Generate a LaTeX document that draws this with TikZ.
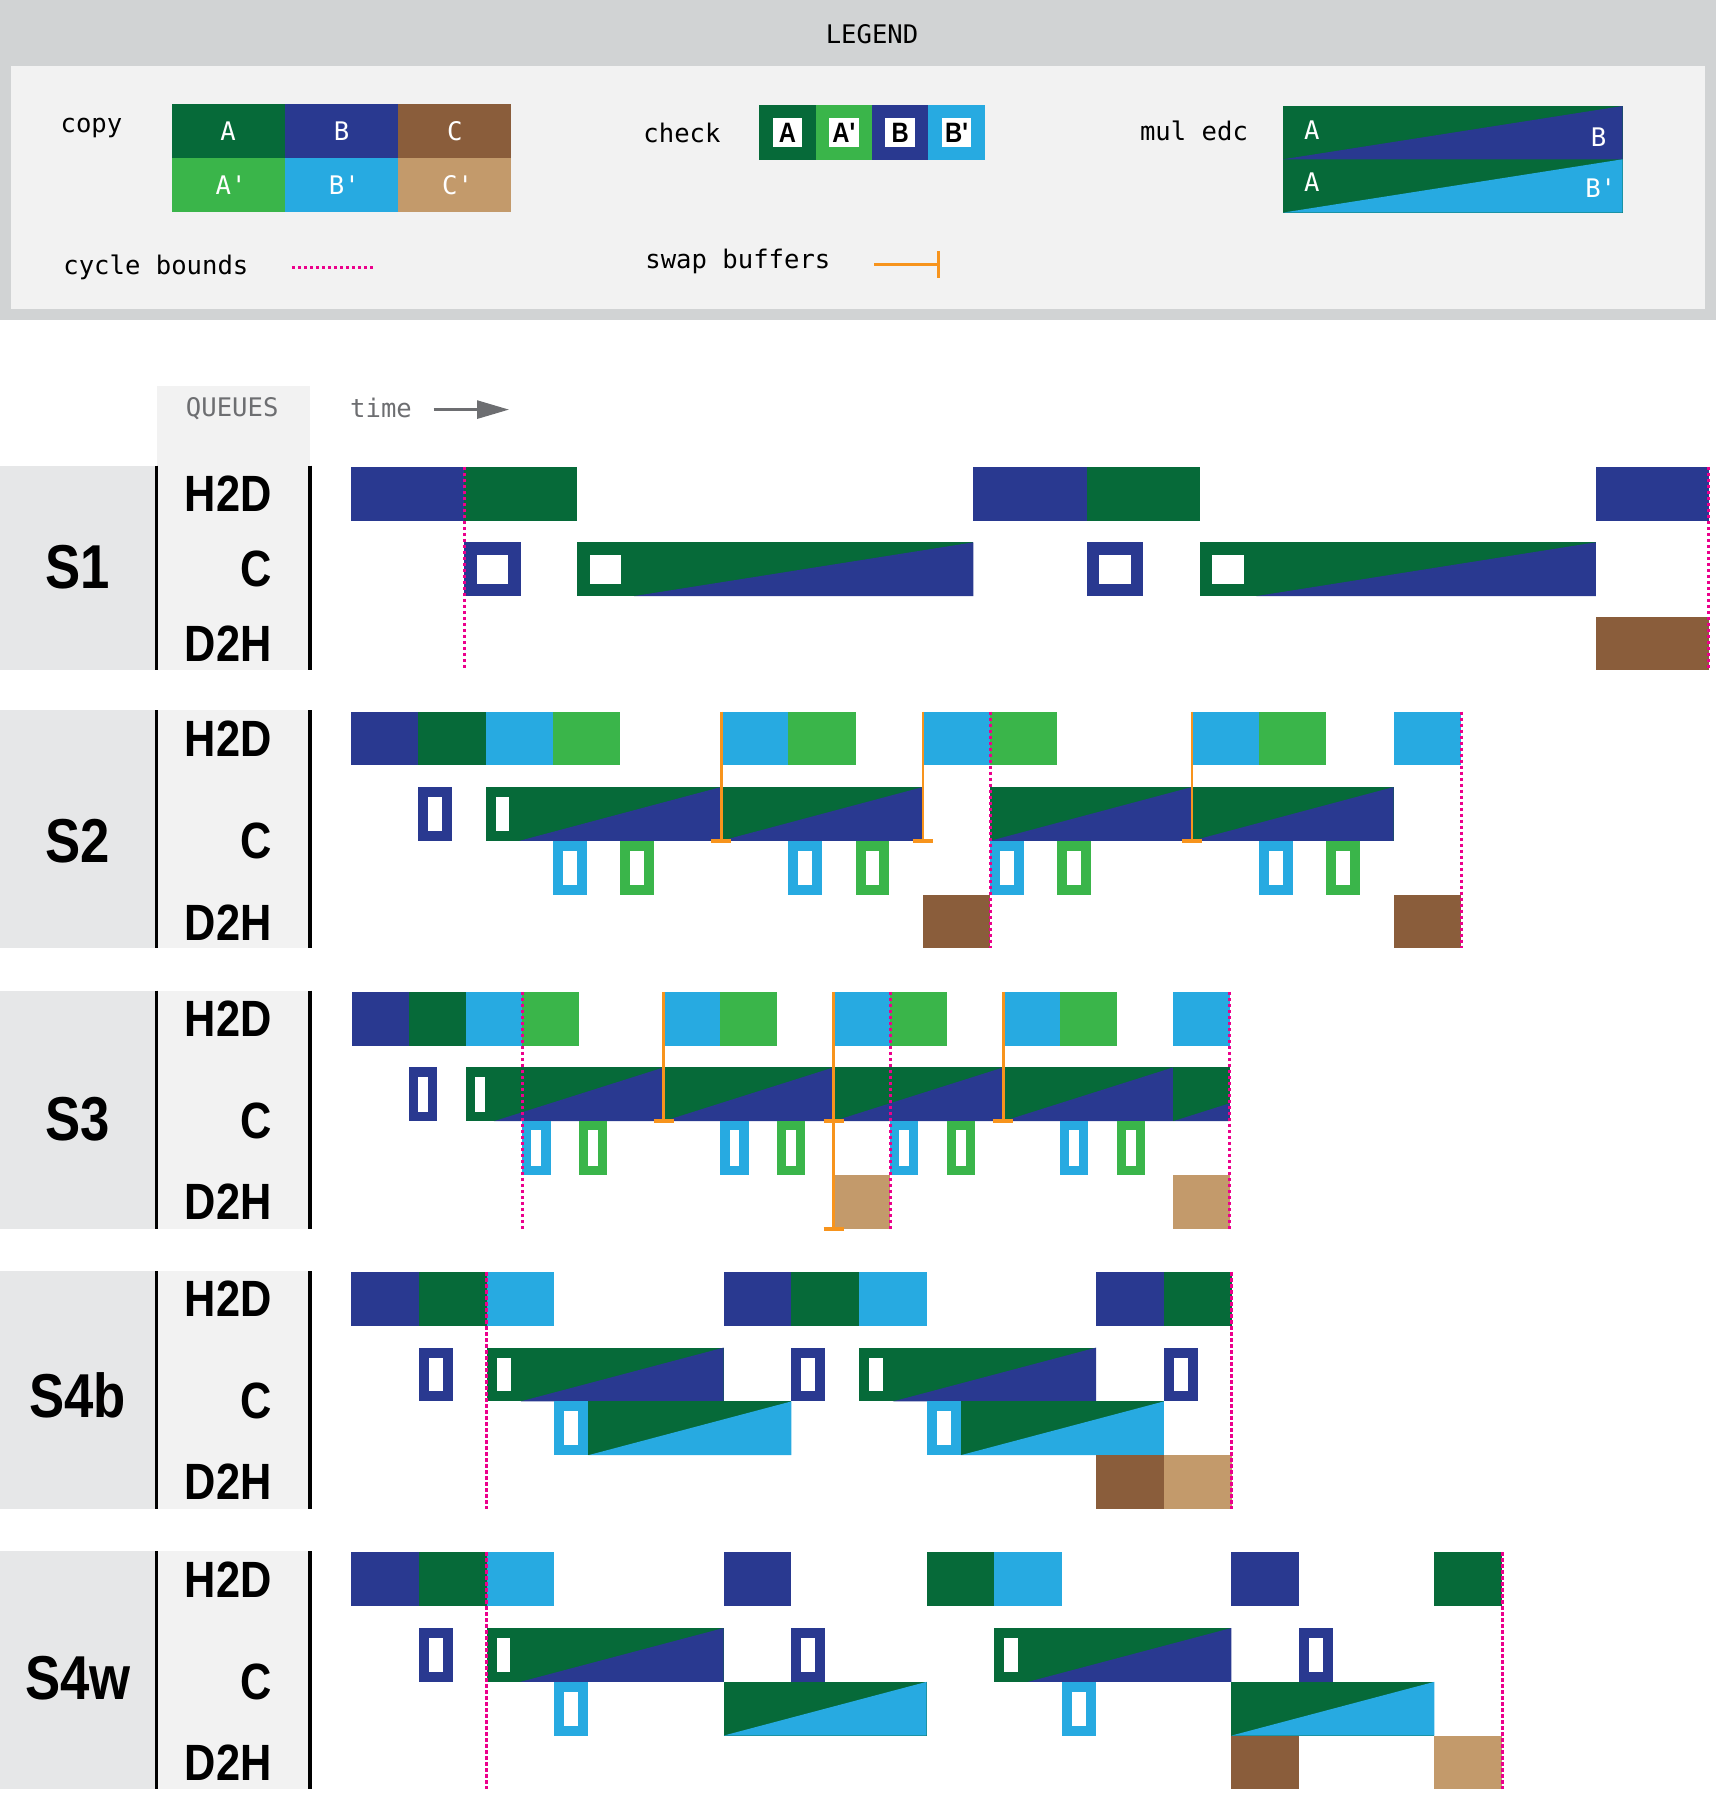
\documentclass[tikz,border=0pt]{standalone}
\usepackage{fontspec}
\setmainfont{Liberation Sans}
\newfontfamily\codefont{DejaVu Sans Mono}
\newfontfamily\headfont[FakeStretch=0.85]{Liberation Sans}
\usetikzlibrary{arrows.meta}
\definecolor{cA}{HTML}{066A39}
\definecolor{cB}{HTML}{293990}
\definecolor{cC}{HTML}{8A5D3B}
\definecolor{cAp}{HTML}{3AB54A}
\definecolor{cBp}{HTML}{27AAE1}
\definecolor{cCp}{HTML}{C39A6B}
\definecolor{cyc}{HTML}{EC008C}
\definecolor{swp}{HTML}{F7941D}
\definecolor{lgdark}{HTML}{D1D3D4}
\definecolor{lglight}{HTML}{F2F2F2}
\definecolor{cellgrey}{HTML}{E6E7E8}
\definecolor{txtgrey}{HTML}{6D6E71}

% lane height (px)
\newcommand{\lh}{53.8}
% copy block: colour, from, to, lane top
\newcommand{\cpyblk}[4]{\fill[#1] (#2,#4) rectangle (#3,#4+\lh);}
% check block: colour, start, lane top
\newcommand{\chkblk}[3]{\fill[#1] (#2,#3) rectangle (#2+1,#3+\lh);
  \fill[white] ([xshift=\chkb,yshift=-\chkb]#2,#3) rectangle ([xshift=-\chkb,yshift=\chkb]#2+1,#3+\lh);}
% mul edc block: lower colour, from, to, lane top
\newcommand{\mulblk}[4]{\fill[cA] (#2,#4) rectangle (#3,#4+\lh);
  \fill[#1] (#2,#4+\lh) -- (#3,#4) -- (#3,#4+\lh) -- cycle;}
\newcommand{\cycbnd}[3]{\draw[cycbound] (#1,#2) -- (#1,#3);}
\newcommand{\swapbuf}[3]{\draw[swapline] (#1,#2) -- (#1,#3);
  \draw[swapfoot] ([xshift=-5pt]#1,#3) -- ([xshift=5pt]#1,#3);}

\begin{document}
\begin{tikzpicture}[
  x=0.5pt, y=-0.5pt,
  legtxt/.style={font=\codefont\fontsize{12.8}{15}\selectfont, inner sep=0},
  celltxt/.style={legtxt, text=white},
  chklbl/.style={font=\headfont\bfseries\fontsize{14}{16}\selectfont, fill=white,
                 minimum width=14.75pt, minimum height=14.5pt, inner sep=0},
  queuelbl/.style={font=\headfont\bfseries\fontsize{25.5}{28}\selectfont, anchor=east, inner sep=0},
  scenlbl/.style={font=\headfont\bfseries\fontsize{31}{34}\selectfont, inner sep=0},
  cycbound/.style={cyc, line width=1.5pt, dash pattern=on 1.7pt off 1.3pt},
  swapline/.style={swp, line width=1.4pt},
  swapfoot/.style={swp, line width=2pt},
  sep/.style={black, line width=1.75pt},
  timearrow/.style={-{Triangle[length=16pt,width=9pt]}, txtgrey, line width=1.4pt}
]
\useasboundingbox (0,0) rectangle (1716,1794);

% legend
\fill[lgdark] (0,0) rectangle (1716,320);
\fill[lglight] (11.4,66.4) rectangle (1704.6,309);
\node[legtxt] (legend_title) at (872,34) {LEGEND};
\node[legtxt] (lbl_copy) at (91.5,128) {copy};
\fill[cA]  (171.6,104.1) rectangle (284.9,157.9);
\fill[cB]  (284.9,104.1) rectangle (398.1,157.9);
\fill[cC]  (398.1,104.1) rectangle (511.4,157.9);
\fill[cAp] (171.6,157.9) rectangle (284.9,211.6);
\fill[cBp] (284.9,157.9) rectangle (398.1,211.6);
\fill[cCp] (398.1,157.9) rectangle (511.4,211.6);
\node[celltxt] (cp_a)  at (228.2,131) {A};
\node[celltxt] (cp_b)  at (341.5,131) {B};
\node[celltxt] (cp_c)  at (454.8,131) {C};
\node[celltxt] (cp_ap) at (231,185) {A'};
\node[celltxt] (cp_bp) at (344.3,185) {B'};
\node[celltxt] (cp_cp) at (457.6,185) {C'};

\node[legtxt] (lbl_check) at (682,132.7) {check};
\foreach \c/\t [count=\i from 0] in {cA/A, cAp/A', cB/B, cBp/B'} {
  \fill[\c] ({759.3+56.35*\i},105.3) rectangle ({815.65+56.35*\i},159.7);
  \node[chklbl] (lchk\i) at ({787.5+56.35*\i},132.5) {\t};
}

\node[legtxt] (lbl_mul) at (1194,130.4) {mul edc};
\fill[cA] (1283,106) rectangle (1622.5,212.6);
\fill[cB] (1283,159.3) -- (1622.5,106) -- (1622.5,159.3) -- cycle;
\fill[cBp] (1283,212.6) -- (1622.5,159.3) -- (1622.5,212.6) -- cycle;
\node[celltxt] (mul_a1) at (1311.8,130) {A};
\node[celltxt] (mul_b)  at (1598.5,136.7) {B};
\node[celltxt] (mul_a2) at (1311.8,181.7) {A};
\node[celltxt] (mul_bp) at (1600.7,188.3) {B'};

\node[legtxt, anchor=west] (lbl_cycle) at (63,267.7) {cycle bounds};
\draw[cycbound] (292,267.3) -- (373,267.3);
\node[legtxt, anchor=west] (lbl_swap) at (645,261) {swap buffers};
\draw[swapline] (874,264.7) -- (938.7,264.7);
\draw[swapline] (938.7,251) -- (938.7,278.3);

% header
\fill[lglight] (156.7,385.5) rectangle (310,465.6);
\node[legtxt, text=txtgrey] (hdr_queues) at (232.2,408.4) {QUEUES};
\node[legtxt, text=txtgrey] (hdr_time) at (381,408.4) {time};
\draw[timearrow] (433.6,409.6) -- (509,409.6);

% scenario frames and labels
\foreach \nm/\ya/\yb/\sy/\hy/\cy/\dy in {
    S1/465.6/670.4/567.4/493.7/569.2/643.5,
    S2/710.4/948.4/840.8/738.5/840.8/922.5,
    S3/990.7/1228.8/1118.8/1018.7/1121.2/1201.9,
    S4b/1271/1509/1395.7/1299/1401.4/1482.1,
    S4w/1551.3/1789.4/1678/1579.3/1681.8/1762.5} {
  \fill[cellgrey] (0,\ya) rectangle (156.7,\yb);
  \fill[lglight] (156.7,\ya) rectangle (310,\yb);
  \draw[sep] (156.7,\ya) -- (156.7,\yb);
  \draw[sep] (310,\ya) -- (310,\yb);
  \node[scenlbl] (scen\nm) at (77.8,\sy) {\nm};
  \node[queuelbl] (h2d\nm) at (272,\hy) {H2D};
  \node[queuelbl] (c\nm) at (272,\cy) {C};
  \node[queuelbl] (d2h\nm) at (272,\dy) {D2H};
}

% S1
\begin{scope}[shift={(351.2,0)}, x=28.285pt]
\def\rH{466.8}\def\rC{542.3}\def\rD{616.6}\def\chkb{6.3pt}
\cpyblk{cB}{0}{2}{\rH} \cpyblk{cA}{2}{4}{\rH}
\cpyblk{cB}{11}{13}{\rH} \cpyblk{cA}{13}{15}{\rH}
\cpyblk{cB}{22}{24}{\rH}
\chkblk{cB}{2}{\rC} \chkblk{cA}{4}{\rC} \mulblk{cB}{5}{11}{\rC}
\chkblk{cB}{13}{\rC} \chkblk{cA}{15}{\rC} \mulblk{cB}{16}{22}{\rC}
\cpyblk{cC}{22}{24}{\rD}
\cycbnd{2}{\rH}{\rD+\lh} \cycbnd{24}{\rH}{\rD+\lh}
\end{scope}

% S2
\begin{scope}[shift={(351.2,0)}, x=16.815pt]
\def\rH{711.6}\def\rC{787.0}\def\rK{840.8}\def\rD{894.6}\def\chkb{5pt}
\cpyblk{cB}{0}{2}{\rH} \cpyblk{cA}{2}{4}{\rH} \cpyblk{cBp}{4}{6}{\rH} \cpyblk{cAp}{6}{8}{\rH}
\cpyblk{cBp}{11}{13}{\rH} \cpyblk{cAp}{13}{15}{\rH}
\cpyblk{cBp}{17}{19}{\rH} \cpyblk{cAp}{19}{21}{\rH}
\cpyblk{cBp}{25}{27}{\rH} \cpyblk{cAp}{27}{29}{\rH}
\cpyblk{cBp}{31}{33}{\rH}
\chkblk{cB}{2}{\rC} \chkblk{cA}{4}{\rC}
\mulblk{cB}{5}{11}{\rC} \mulblk{cB}{11}{17}{\rC}
\mulblk{cB}{19}{25}{\rC} \mulblk{cB}{25}{31}{\rC}
\chkblk{cBp}{6}{\rK} \chkblk{cAp}{8}{\rK} \chkblk{cBp}{13}{\rK} \chkblk{cAp}{15}{\rK}
\chkblk{cBp}{19}{\rK} \chkblk{cAp}{21}{\rK} \chkblk{cBp}{27}{\rK} \chkblk{cAp}{29}{\rK}
\cpyblk{cC}{17}{19}{\rD} \cpyblk{cC}{31}{33}{\rD}
\swapbuf{11}{\rH}{\rC+\lh} \swapbuf{17}{\rH}{\rC+\lh} \swapbuf{25}{\rH}{\rC+\lh}
\cycbnd{19}{\rH}{\rD+\lh} \cycbnd{33}{\rH}{\rD+\lh}
\end{scope}

% S3
\begin{scope}[shift={(352.4,0)}, x=14.15pt]
\def\rH{991.8}\def\rC{1067.4}\def\rK{1121.2}\def\rD{1175.0}\def\chkb{4.6pt}
\cpyblk{cB}{0}{2}{\rH} \cpyblk{cA}{2}{4}{\rH} \cpyblk{cBp}{4}{6}{\rH} \cpyblk{cAp}{6}{8}{\rH}
\cpyblk{cBp}{11}{13}{\rH} \cpyblk{cAp}{13}{15}{\rH}
\cpyblk{cBp}{17}{19}{\rH} \cpyblk{cAp}{19}{21}{\rH}
\cpyblk{cBp}{23}{25}{\rH} \cpyblk{cAp}{25}{27}{\rH}
\cpyblk{cBp}{29}{31}{\rH}
\chkblk{cB}{2}{\rC} \chkblk{cA}{4}{\rC}
\mulblk{cB}{5}{11}{\rC} \mulblk{cB}{11}{17}{\rC} \mulblk{cB}{17}{23}{\rC} \mulblk{cB}{23}{29}{\rC}
\fill[cA] (29,\rC) rectangle (31,\rC+\lh);
\fill[cB] (29,\rC+\lh) -- (31,\rC+\lh*2/3) -- (31,\rC+\lh) -- cycle;
\chkblk{cBp}{6}{\rK} \chkblk{cAp}{8}{\rK} \chkblk{cBp}{13}{\rK} \chkblk{cAp}{15}{\rK}
\chkblk{cBp}{19}{\rK} \chkblk{cAp}{21}{\rK} \chkblk{cBp}{25}{\rK} \chkblk{cAp}{27}{\rK}
\cpyblk{cCp}{17}{19}{\rD} \cpyblk{cCp}{29}{31}{\rD}
\swapbuf{11}{\rH}{\rC+\lh} \swapbuf{17}{\rH}{\rD+\lh} \swapbuf{23}{\rH}{\rC+\lh}
\draw[swapfoot] ([xshift=-5pt]17,\rC+\lh) -- ([xshift=5pt]17,\rC+\lh);
\cycbnd{6}{\rH}{\rD+\lh} \cycbnd{19}{\rH}{\rD+\lh} \cycbnd{31}{\rH}{\rD+\lh}
\end{scope}

% S4b
\begin{scope}[shift={(351.2,0)}, x=16.93pt]
\def\rH{1272.1}\def\rC{1347.6}\def\rK{1401.4}\def\rD{1455.2}\def\chkb{5pt}
\cpyblk{cB}{0}{2}{\rH} \cpyblk{cA}{2}{4}{\rH} \cpyblk{cBp}{4}{6}{\rH}
\cpyblk{cB}{11}{13}{\rH} \cpyblk{cA}{13}{15}{\rH} \cpyblk{cBp}{15}{17}{\rH}
\cpyblk{cB}{22}{24}{\rH} \cpyblk{cA}{24}{26}{\rH}
\chkblk{cB}{2}{\rC} \chkblk{cA}{4}{\rC} \mulblk{cB}{5}{11}{\rC}
\chkblk{cB}{13}{\rC} \chkblk{cA}{15}{\rC} \mulblk{cB}{16}{22}{\rC}
\chkblk{cB}{24}{\rC}
\chkblk{cBp}{6}{\rK} \mulblk{cBp}{7}{13}{\rK}
\chkblk{cBp}{17}{\rK} \mulblk{cBp}{18}{24}{\rK}
\cpyblk{cC}{22}{24}{\rD} \cpyblk{cCp}{24}{26}{\rD}
\cycbnd{4}{\rH}{\rD+\lh} \cycbnd{26}{\rH}{\rD+\lh}
\end{scope}

% S4w
\begin{scope}[shift={(351.2,0)}, x=16.925pt]
\def\rH{1552.4}\def\rC{1628.0}\def\rK{1681.8}\def\rD{1735.6}\def\chkb{5pt}
\cpyblk{cB}{0}{2}{\rH} \cpyblk{cA}{2}{4}{\rH} \cpyblk{cBp}{4}{6}{\rH}
\cpyblk{cB}{11}{13}{\rH}
\cpyblk{cA}{17}{19}{\rH} \cpyblk{cBp}{19}{21}{\rH}
\cpyblk{cB}{26}{28}{\rH}
\cpyblk{cA}{32}{34}{\rH}
\chkblk{cB}{2}{\rC} \chkblk{cA}{4}{\rC} \mulblk{cB}{5}{11}{\rC}
\chkblk{cB}{13}{\rC}
\chkblk{cA}{19}{\rC} \mulblk{cB}{20}{26}{\rC}
\chkblk{cB}{28}{\rC}
\chkblk{cBp}{6}{\rK} \mulblk{cBp}{11}{17}{\rK}
\chkblk{cBp}{21}{\rK} \mulblk{cBp}{26}{32}{\rK}
\cpyblk{cC}{26}{28}{\rD} \cpyblk{cCp}{32}{34}{\rD}
\cycbnd{4}{\rH}{\rD+\lh} \cycbnd{34}{\rH}{\rD+\lh}
\end{scope}
\end{tikzpicture}
\end{document}
